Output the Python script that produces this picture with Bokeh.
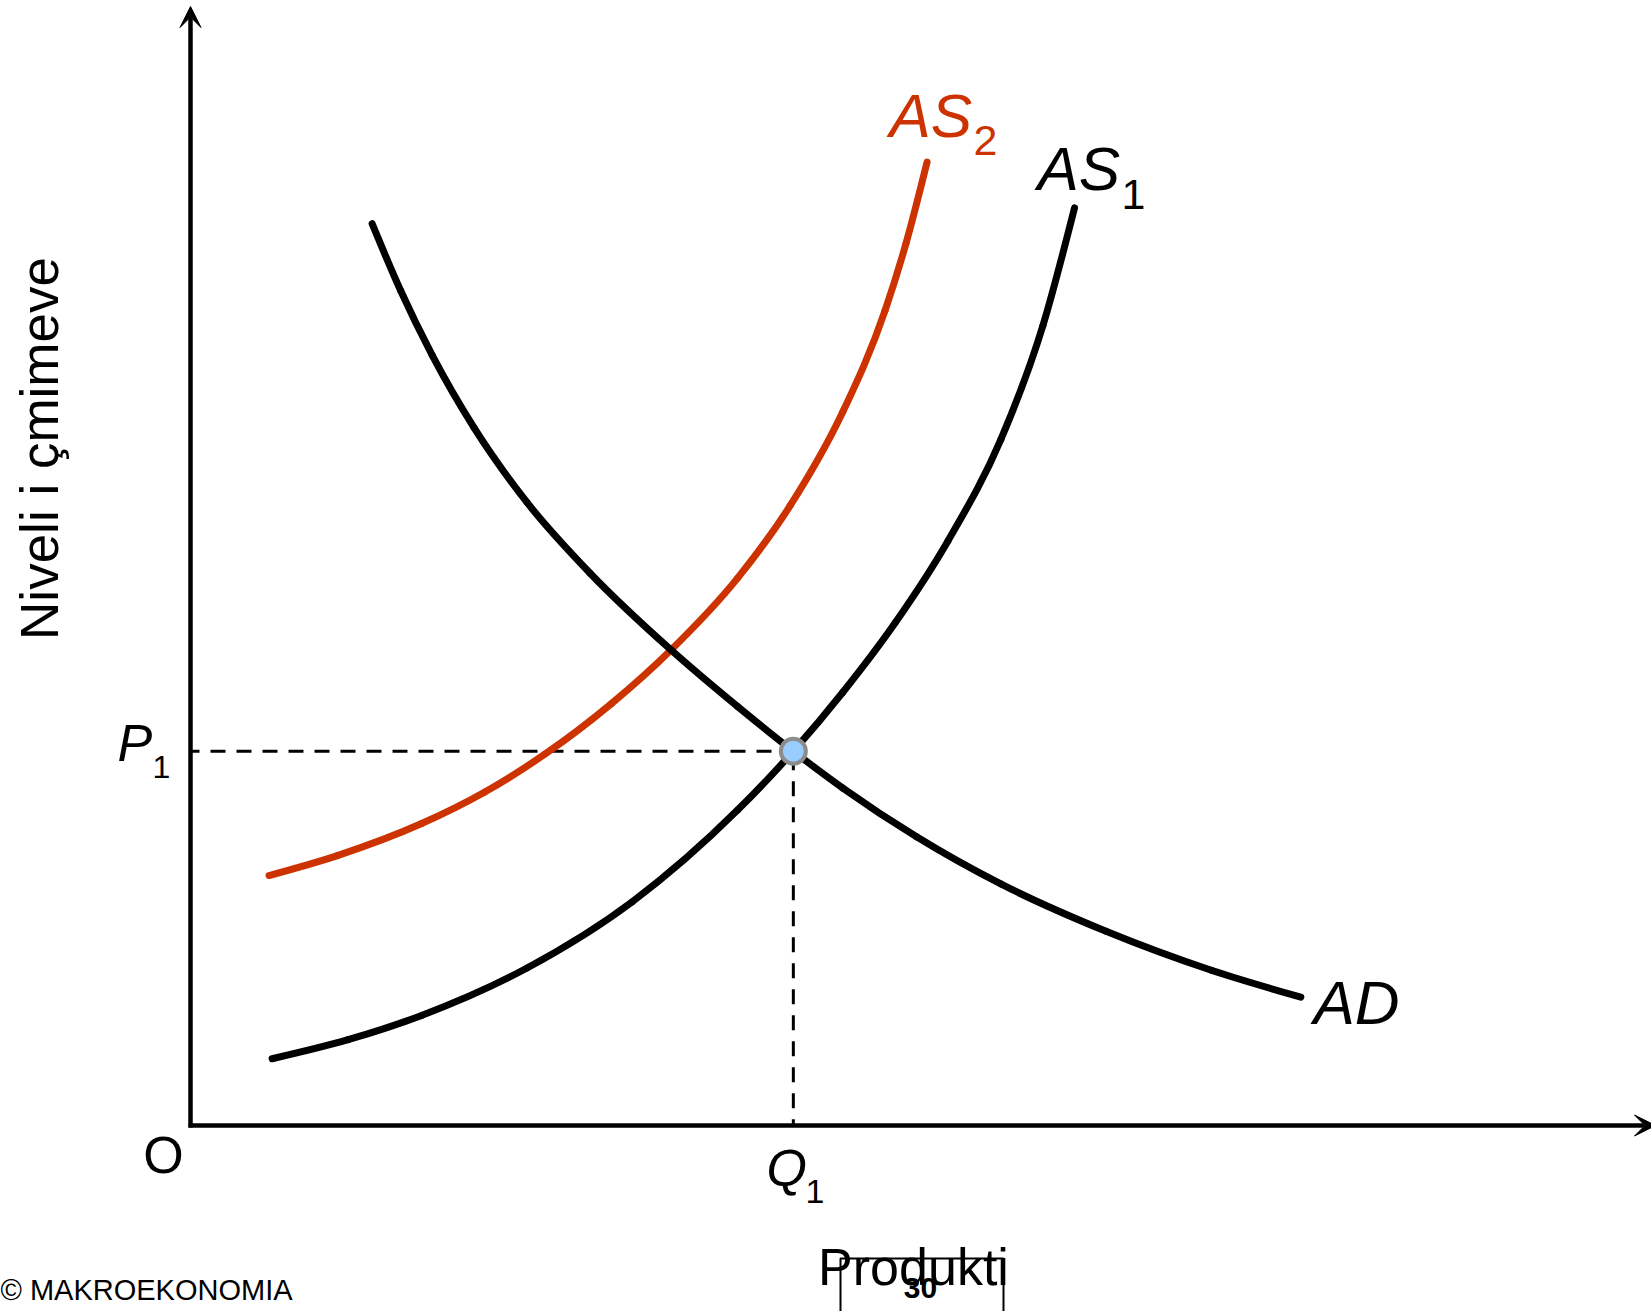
from bokeh.plotting import figure
from bokeh.models import Arrow, VeeHead, Label, Range1d
from bokeh.embed import file_html
from bokeh.resources import INLINE

# ---- data (output Q on x, price level on y; arbitrary units) ----
ad_q = [12.44, 14.39, 16.56, 19.44, 23.05, 27.37, 32.93, 37.47, 41.29, 44.68, 49.73, 55.50, 62.71, 69.92, 76.05]
ad_p = [80.52, 74.55, 68.76, 62.26, 55.63, 49.31, 42.44, 37.41, 33.42, 30.13, 25.78, 21.57, 17.34, 13.86, 11.46]

as1_q = [5.59, 10.79, 15.83, 23.05, 30.26, 37.47, 41.29, 44.68, 48.29, 51.89, 55.50, 58.38, 60.55]
as1_p = [5.96, 7.66, 9.83, 14.06, 19.98, 28.16, 33.42, 38.68, 44.93, 52.22, 61.24, 71.40, 81.93]

as2_q = [5.38, 10.06, 15.83, 20.16, 24.27, 28.82, 32.93, 37.47, 41.08, 44.68, 47.57, 49.01, 50.45]
as2_p = [22.32, 24.10, 26.96, 29.78, 33.15, 37.66, 42.48, 48.87, 55.36, 63.73, 72.75, 78.77, 86.01]

q1 = 41.29
p1 = 33.42

# ---- layout helpers (page pixel -> data units) ----
KX, KY = 14.6, 11.2
OX, OY = 190.0, 1125.0
W, H = 1651, 1311


def px(X):
    return (X - OX) / KX


def py(Y):
    return (OY - Y) / KY


p = figure(width=W, height=H,
           x_range=Range1d(px(0), px(W)), y_range=Range1d(py(H), py(0)),
           x_axis_type=None, y_axis_type=None,
           output_backend="svg", toolbar_location=None,
           min_border=0, min_border_left=0, min_border_right=0,
           min_border_top=0, min_border_bottom=0)
p.grid.visible = False
p.outline_line_color = None
p.background_fill_color = "white"
p.border_fill_color = "white"

FONT = "Liberation Sans"
RED = "#cc3300"

# axes with arrow heads
p.add_layout(Arrow(end=VeeHead(size=21, fill_color="black", line_color="black", line_width=1),
                   x_start=0, y_start=py(1127), x_end=0, y_end=py(6),
                   line_width=4.5, line_color="black"))
p.add_layout(Arrow(end=VeeHead(size=21, fill_color="black", line_color="black", line_width=1),
                   x_start=px(188), y_start=0, x_end=px(1655), y_end=0,
                   line_width=4.5, line_color="black"))

# dashed guides
p.line([0, q1], [p1, p1], line_color="black", line_width=3, line_dash="15 11", line_dash_offset=6)
p.line([q1, q1], [p1, 0], line_color="black", line_width=3, line_dash="15 11", line_dash_offset=22)


def smooth(xs, ys, color):
    """Draw a smooth curve through the read points (cubic Hermite in x, as Beziers)."""
    n = len(xs)
    h = [xs[i + 1] - xs[i] for i in range(n - 1)]
    d = [(ys[i + 1] - ys[i]) / h[i] for i in range(n - 1)]
    m = [0.0] * n
    for i in range(1, n - 1):
        m[i] = (d[i - 1] * h[i] + d[i] * h[i - 1]) / (h[i - 1] + h[i])
    m[0] = (3 * d[0] - m[1]) / 2
    m[-1] = (3 * d[-1] - m[-2]) / 2
    x0, y0, x1, y1, cx0, cy0, cx1, cy1 = [], [], [], [], [], [], [], []
    for i in range(n - 1):
        x0.append(xs[i]); y0.append(ys[i])
        x1.append(xs[i + 1]); y1.append(ys[i + 1])
        cx0.append(xs[i] + h[i] / 3); cy0.append(ys[i] + m[i] * h[i] / 3)
        cx1.append(xs[i + 1] - h[i] / 3); cy1.append(ys[i + 1] - m[i + 1] * h[i] / 3)
    p.bezier(x0=x0, y0=y0, x1=x1, y1=y1, cx0=cx0, cy0=cy0, cx1=cx1, cy1=cy1,
             line_color=color, line_width=7, line_cap="round")


smooth(as2_q, as2_p, RED)
smooth(as1_q, as1_p, "black")
smooth(ad_q, ad_p, "black")

# equilibrium point
p.scatter([q1], [p1], size=25, fill_color="#99ccff", line_color="#8c8c8c", line_width=4)

LIFT = 0.43  # baseline correction (fraction of font size)


def lab(X, Y, text, size, color="black", style="normal", align="left"):
    p.add_layout(Label(x=px(X), y=py(Y - LIFT * size), text=text, text_font=FONT,
                       text_font_size=f"{size}px", text_font_style=style, text_color=color,
                       text_align=align, text_baseline="alphabetic"))


# curve labels
lab(889, 142, "AS", 62, RED, "italic")
lab(973, 158, "2", 43, RED)
lab(1037, 195, "AS", 62, "black", "italic")
lab(1121, 212, "1", 43)
lab(1313, 1029, "AD", 62, "black", "italic")

# axis labels
lab(117, 765, "P", 52, "black", "italic")
lab(152, 780, "1", 32)
lab(766, 1190, "Q", 52, "black", "italic")
lab(805, 1206, "1", 34)
lab(163, 1177, "O", 52, align="center")
lab(913, 1289, "Produkti", 52, align="center")
p.add_layout(Label(x=px(39), y=py(448), text="Niveli i çmimeve", text_font=FONT,
                   text_font_size="53px", text_color="black", text_align="center",
                   text_baseline="alphabetic", angle=1.5707963))

# footer
p.line([px(840), px(840), px(1003), px(1003)], [py(1320), py(1258), py(1258), py(1320)],
       line_color="black", line_width=2)
lab(0, 1302, "© MAKROEKONOMIA", 29)
lab(920, 1300, "30", 30, "black", "bold", align="center")

open("out.html", "w").write(file_html(p, INLINE))
